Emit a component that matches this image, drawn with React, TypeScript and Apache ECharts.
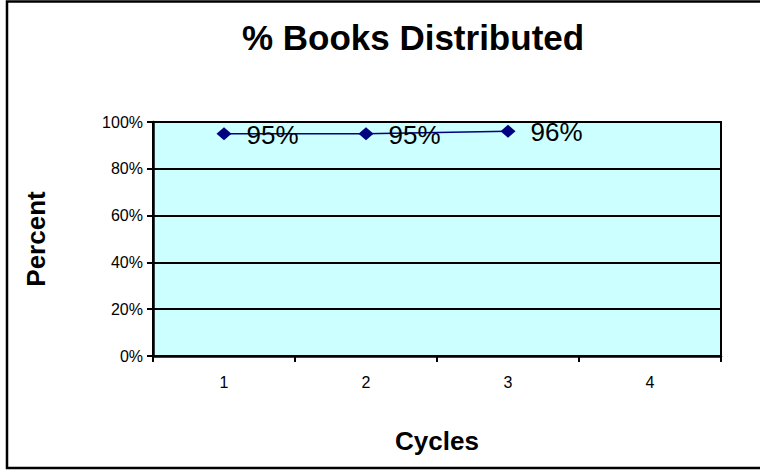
import React, { useEffect, useRef } from "react";
import * as echarts from "echarts";

const categories = ["1", "2", "3", "4"];
const percentValues: (number | null)[] = [0.95, 0.95, 0.96, null];
const yTicks = [0, 0.2, 0.4, 0.6, 0.8, 1];

const FONT = "'Liberation Sans', Arial, sans-serif";

export default function App() {
  const ref = useRef<HTMLDivElement>(null);
  useEffect(() => {
    if (!ref.current) return;
    const chart = echarts.init(ref.current, null, { renderer: "svg" });
    chart.setOption({
      animation: false,
      backgroundColor: "#ffffff",
      textStyle: { fontFamily: FONT },
      graphic: [
        {
          type: "rect",
          shape: { x: 7, y: 1.5, width: 780, height: 466.5 },
          style: { fill: "none", stroke: "#000", lineWidth: 2.5 },
          silent: true,
        },
        {
          type: "text",
          x: 413,
          y: 37,
          style: {
            text: "% Books Distributed",
            font: `bold 35px ${FONT}`,
            fill: "#000",
            align: "center",
            verticalAlign: "middle",
          },
        },
      ],
      grid: {
        left: 153,
        top: 122,
        width: 568,
        height: 234,
        show: true,
        backgroundColor: "#CCFFFF",
        borderColor: "#000",
        borderWidth: 2,
      },
      xAxis: {
        type: "category",
        data: categories,
        boundaryGap: true,
        name: "Cycles",
        nameLocation: "middle",
        nameGap: 72,
        nameTextStyle: { fontSize: 26, fontWeight: "bold", color: "#000", fontFamily: FONT },
        axisLine: { lineStyle: { color: "#000", width: 2.5 } },
        axisTick: { show: true, alignWithLabel: false, length: 6, lineStyle: { color: "#000", width: 2 } },
        axisLabel: { color: "#000", fontSize: 16, margin: 18, fontFamily: FONT },
        splitLine: { show: false },
      },
      yAxis: {
        type: "value",
        min: 0,
        max: 1,
        interval: 0.2,
        name: "Percent",
        nameLocation: "middle",
        nameRotate: 90,
        nameGap: 104,
        nameTextStyle: { fontSize: 26, fontWeight: "bold", color: "#000", fontFamily: FONT },
        axisLine: { show: true, lineStyle: { color: "#000", width: 2.5 } },
        axisTick: { show: true, length: 6, lineStyle: { color: "#000", width: 2 } },
        axisLabel: {
          color: "#000",
          fontSize: 16,
          margin: 10,
          fontFamily: FONT,
          formatter: (v: number) => (yTicks.some((t) => Math.abs(t - v) < 1e-9) ? `${Math.round(v * 100)}%` : ""),
        },
        splitLine: { show: true, lineStyle: { color: "#000", width: 2 } },
      },
      series: [
        {
          type: "line",
          data: percentValues,
          connectNulls: false,
          symbol: "diamond",
          symbolSize: [15, 13],
          itemStyle: { color: "#000080" },
          lineStyle: { color: "#000080", width: 1.5 },
          label: {
            show: true,
            position: "right",
            distance: 15,
            offset: [0, 1],
            color: "#000",
            fontSize: 26,
            fontFamily: FONT,
            formatter: (p: any) => `${Math.round(p.value * 100)}%`,
          },
        },
      ],
    });
    return () => chart.dispose();
  }, []);
  return (
    <div
      ref={ref}
      style={{ position: "fixed", left: 0, top: 0, width: 760, height: 470 }}
    />
  );
}
